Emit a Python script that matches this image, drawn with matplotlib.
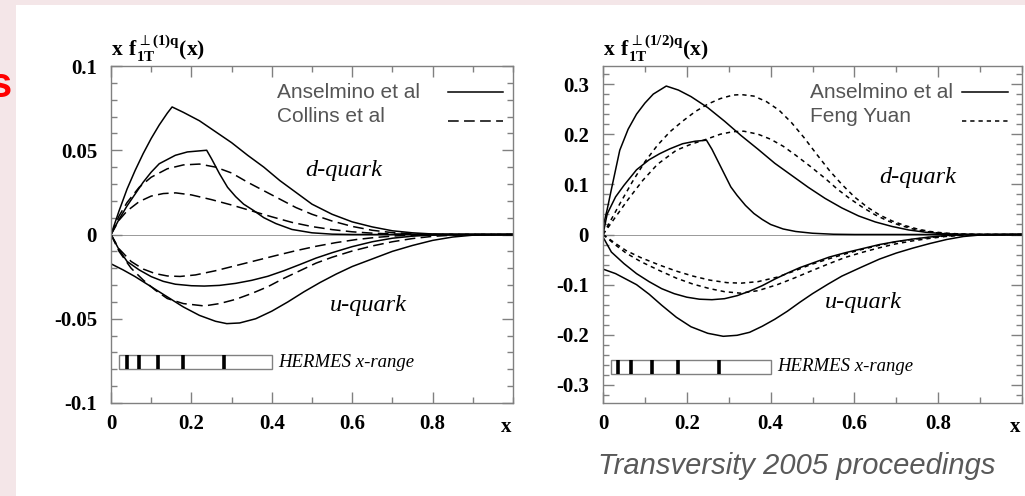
import numpy as np
import matplotlib.pyplot as plt
from matplotlib.patches import Rectangle
from matplotlib.ticker import MultipleLocator

plt.rcParams['mathtext.fontset'] = 'custom'
plt.rcParams['mathtext.bf'] = 'Liberation Serif:bold'
plt.rcParams['mathtext.rm'] = 'Liberation Serif'
plt.rcParams['mathtext.fallback'] = 'stix'

# --- left panel: x f_1T^(1)q ---
x_ans_d1 = [0, 0.02, 0.04, 0.06, 0.08, 0.10, 0.12, 0.14, 0.152, 0.18, 0.22, 0.26, 0.30, 0.34, 0.38,
            0.42, 0.46, 0.50, 0.55, 0.60, 0.65, 0.70, 0.75, 0.80, 0.90, 1.0]
y_ans_d1 = [0, 0.014, 0.027, 0.038, 0.048, 0.057, 0.065, 0.072, 0.0757, 0.0725, 0.0675, 0.061, 0.0545,
            0.047, 0.040, 0.032, 0.025, 0.018, 0.012, 0.0075, 0.0045, 0.0022, 0.001, 0.0003, 0, 0]
x_ans_d2 = [0, 0.02, 0.04, 0.06, 0.08, 0.10, 0.12, 0.14, 0.16, 0.19, 0.238, 0.25, 0.27, 0.29, 0.31,
            0.33, 0.355, 0.38, 0.41, 0.45, 0.50, 0.55, 0.60, 1.0]
y_ans_d2 = [0, 0.009, 0.017, 0.024, 0.031, 0.037, 0.042, 0.0445, 0.047, 0.049, 0.050, 0.045, 0.036,
            0.028, 0.0225, 0.018, 0.0142, 0.010, 0.0065, 0.003, 0.001, 0.0002, 0, 0]
x_col_d1 = [0, 0.02, 0.04, 0.07, 0.10, 0.14, 0.18, 0.22, 0.26, 0.30, 0.34, 0.38, 0.42, 0.46, 0.50,
            0.55, 0.60, 0.65, 0.70, 0.75, 0.80, 1.0]
y_col_d1 = [0, 0.011, 0.019, 0.028, 0.034, 0.039, 0.0413, 0.0418, 0.040, 0.0365, 0.031, 0.026, 0.021,
            0.016, 0.012, 0.008, 0.0048, 0.0025, 0.0011, 0.0004, 0.0001, 0]
x_col_d2 = [0, 0.02, 0.04, 0.07, 0.10, 0.13, 0.161, 0.20, 0.25, 0.30, 0.35, 0.40, 0.45, 0.50, 0.55,
            0.60, 0.65, 0.70, 0.80, 1.0]
y_col_d2 = [0, 0.0085, 0.014, 0.0195, 0.0228, 0.0243, 0.0247, 0.0235, 0.0207, 0.0175, 0.014, 0.0105,
            0.0072, 0.0047, 0.0029, 0.0016, 0.0008, 0.0003, 0, 0]

x_col_u1 = [0, 0.02, 0.05, 0.08, 0.11, 0.14, 0.172, 0.21, 0.26, 0.31, 0.36, 0.41, 0.46, 0.51, 0.56,
            0.61, 0.66, 0.71, 0.78, 0.85, 1.0]
y_col_u1 = [0, -0.0085, -0.016, -0.0205, -0.0232, -0.0246, -0.0249, -0.024, -0.0215, -0.0185, -0.0155,
            -0.0125, -0.0096, -0.007, -0.0048, -0.003, -0.0017, -0.0008, -0.0002, 0, 0]
x_ans_u1 = [0, 0.02, 0.04, 0.07, 0.10, 0.13, 0.16, 0.20, 0.232, 0.27, 0.31, 0.35, 0.39, 0.43, 0.47,
            0.51, 0.55, 0.60, 0.65, 0.70, 0.75, 0.80, 0.90, 1.0]
y_ans_u1 = [0, -0.009, -0.016, -0.021, -0.025, -0.0278, -0.0295, -0.0304, -0.0306, -0.0302, -0.029,
            -0.0272, -0.0248, -0.0215, -0.0178, -0.014, -0.0108, -0.0072, -0.0043, -0.0022, -0.001,
            -0.0003, 0, 0]
x_col_u2 = [0, 0.02, 0.05, 0.08, 0.11, 0.14, 0.18, 0.232, 0.27, 0.31, 0.35, 0.39, 0.43, 0.47, 0.51,
            0.55, 0.60, 0.65, 0.70, 0.75, 0.80, 0.85, 0.90, 1.0]
y_col_u2 = [0, -0.010, -0.020, -0.027, -0.033, -0.038, -0.041, -0.0424, -0.041, -0.0385, -0.035,
            -0.031, -0.026, -0.0215, -0.017, -0.0135, -0.0098, -0.0068, -0.0043, -0.0024, -0.0011,
            -0.0004, -0.0001, 0]
x_ans_u2 = [0, 0.03, 0.06, 0.10, 0.14, 0.18, 0.22, 0.26, 0.288, 0.32, 0.36, 0.40, 0.44, 0.48, 0.52,
            0.56, 0.60, 0.65, 0.70, 0.75, 0.80, 0.85, 0.90, 1.0]
y_ans_u2 = [-0.0174, -0.021, -0.025, -0.031, -0.037, -0.043, -0.048, -0.0515, -0.0529, -0.0525, -0.050,
            -0.0455, -0.040, -0.034, -0.0285, -0.0235, -0.019, -0.0145, -0.010, -0.0065, -0.0035,
            -0.0015, -0.0004, 0]

# --- right panel: x f_1T^(1/2)q ---
x_ans_r_d1 = [0, 0.01, 0.02, 0.04, 0.06, 0.08, 0.10, 0.12, 0.151, 0.18, 0.21, 0.25, 0.29, 0.33, 0.37,
              0.41, 0.45, 0.49, 0.53, 0.57, 0.61, 0.65, 0.69, 0.73, 0.77, 0.81, 0.85, 0.90, 1.0]
y_ans_r_d1 = [0.015, 0.05, 0.09, 0.168, 0.21, 0.24, 0.262, 0.28, 0.296, 0.288, 0.275, 0.253, 0.226,
              0.197, 0.170, 0.142, 0.118, 0.094, 0.072, 0.053, 0.037, 0.025, 0.016, 0.009, 0.0045,
              0.0018, 0.0005, 0, 0]
x_ans_r_d2 = [0, 0.01, 0.03, 0.05, 0.08, 0.11, 0.135, 0.16, 0.19, 0.22, 0.247, 0.26, 0.275, 0.29, 0.305,
              0.32, 0.34, 0.36, 0.38, 0.40, 0.43, 0.46, 0.50, 0.55, 0.60, 1.0]
y_ans_r_d2 = [0, 0.041, 0.075, 0.098, 0.129, 0.149, 0.161, 0.171, 0.181, 0.186, 0.188, 0.17, 0.145,
              0.12, 0.095, 0.078, 0.058, 0.042, 0.03, 0.02, 0.011, 0.006, 0.0025, 0.0005, 0, 0]
x_fy_d1 = [0, 0.04, 0.07, 0.10, 0.13, 0.16, 0.19, 0.22, 0.25, 0.28, 0.31, 0.33, 0.36, 0.39, 0.42, 0.45,
           0.48, 0.51, 0.54, 0.57, 0.60, 0.63, 0.66, 0.69, 0.72, 0.75, 0.78, 0.82, 0.86, 0.90, 1.0]
y_fy_d1 = [0, 0.061, 0.105, 0.145, 0.178, 0.205, 0.226, 0.245, 0.26, 0.271, 0.278, 0.279, 0.276, 0.265,
           0.248, 0.223, 0.193, 0.16, 0.128, 0.10, 0.075, 0.055, 0.039, 0.027, 0.018, 0.011, 0.006,
           0.0025, 0.0008, 0, 0]
x_fy_d2 = [0, 0.03, 0.06, 0.095, 0.13, 0.175, 0.21, 0.247, 0.28, 0.31, 0.336, 0.37, 0.40, 0.43, 0.46,
           0.496, 0.53, 0.56, 0.59, 0.62, 0.65, 0.68, 0.71, 0.74, 0.77, 0.80, 0.84, 0.90, 1.0]
y_fy_d2 = [0, 0.035, 0.07, 0.108, 0.14, 0.168, 0.18, 0.19, 0.2, 0.205, 0.206, 0.2, 0.19, 0.176, 0.158,
           0.135, 0.112, 0.09, 0.071, 0.054, 0.039, 0.027, 0.018, 0.011, 0.006, 0.003, 0.001, 0, 0]

x_ans_r_u1 = [0, 0.02, 0.05, 0.08, 0.11, 0.14, 0.17, 0.20, 0.23, 0.26, 0.29, 0.32, 0.35, 0.38, 0.41,
              0.44, 0.47, 0.50, 0.54, 0.58, 0.62, 0.66, 0.70, 0.74, 0.78, 0.82, 0.87, 1.0]
y_ans_r_u1 = [-0.005, -0.035, -0.058, -0.078, -0.094, -0.108, -0.118, -0.125, -0.129, -0.130, -0.128,
              -0.122, -0.113, -0.102, -0.089, -0.077, -0.066, -0.057, -0.045, -0.036, -0.028, -0.020,
              -0.014, -0.009, -0.005, -0.002, -0.0005, 0]
x_ans_r_u2 = [0, 0.03, 0.055, 0.08, 0.11, 0.14, 0.175, 0.21, 0.25, 0.287, 0.32, 0.35, 0.38, 0.41, 0.44,
              0.47, 0.50, 0.537, 0.57, 0.617, 0.66, 0.70, 0.74, 0.78, 0.82, 0.86, 0.90, 1.0]
y_ans_r_u2 = [-0.069, -0.078, -0.089, -0.100, -0.119, -0.141, -0.165, -0.184, -0.197, -0.203, -0.201,
              -0.195, -0.183, -0.169, -0.153, -0.135, -0.118, -0.099, -0.083, -0.065, -0.049, -0.037,
              -0.027, -0.018, -0.010, -0.004, -0.001, 0]
x_fy_u1 = [0, 0.03, 0.055, 0.09, 0.135, 0.175, 0.215, 0.255, 0.296, 0.33, 0.37, 0.416, 0.456, 0.496,
           0.537, 0.577, 0.617, 0.657, 0.697, 0.737, 0.777, 0.817, 0.86, 1.0]
y_fy_u1 = [0, -0.018, -0.032, -0.046, -0.061, -0.073, -0.083, -0.091, -0.096, -0.097, -0.094, -0.085,
           -0.073, -0.060, -0.049, -0.039, -0.030, -0.022, -0.015, -0.010, -0.006, -0.003, -0.001, 0]
x_fy_u2 = [0, 0.03, 0.055, 0.09, 0.135, 0.175, 0.215, 0.255, 0.29, 0.328, 0.37, 0.416, 0.456, 0.496,
           0.537, 0.577, 0.617, 0.657, 0.697, 0.737, 0.777, 0.817, 0.86, 0.90, 1.0]
y_fy_u2 = [0, -0.021, -0.037, -0.054, -0.072, -0.087, -0.099, -0.108, -0.114, -0.117, -0.112, -0.100,
           -0.087, -0.073, -0.059, -0.046, -0.036, -0.027, -0.019, -0.013, -0.008, -0.004, -0.0015, 0, 0]

# HERMES x-range bins
hermes_left = [0.039, 0.07, 0.116, 0.18, 0.28]
hermes_right = [0.036, 0.067, 0.117, 0.178, 0.277]

# tick labels
xtick_vals = [0, 0.2, 0.4, 0.6, 0.8]
xtick_labels = ['0', '0.2', '0.4', '0.6', '0.8']
ytick_left = [-0.1, -0.05, 0, 0.05, 0.1]
ytick_left_labels = ['-0.1', '-0.05', '0', '0.05', '0.1']
ytick_right = [-0.3, -0.2, -0.1, 0, 0.1, 0.2, 0.3]
ytick_right_labels = ['-0.3', '-0.2', '-0.1', '0', '0.1', '0.2', '0.3']

serif = 'Liberation Serif'
sans = 'Liberation Sans'
grey_ax = '#808080'

fig = plt.figure(figsize=(10.25, 4.96), dpi=100, facecolor='#f4e6e8')
fig.patches.append(Rectangle((16 / 1025, 0), 1, (496 - 5) / 496, transform=fig.transFigure,
                             facecolor='white', edgecolor='none', zorder=-10))
fig.text(12 / 1025, 1 - 86 / 496, 's', color='red', fontsize=30, fontweight='bold',
         family=sans, ha='right', va='center')

ax1 = fig.add_axes([111 / 1025, 93 / 496, 402 / 1025, 337 / 496])
ax2 = fig.add_axes([603 / 1025, 93 / 496, 419 / 1025, 337 / 496])

solid = dict(color='black', lw=1.1)
long_dash = dict(color='black', lw=1.1, dashes=(7, 3.5))
short_dash = dict(color='black', lw=1.1, dashes=(2.8, 2.6))

ax1.plot(x_ans_d1, y_ans_d1, **solid)
ax1.plot(x_ans_d2, y_ans_d2, **solid)
ax1.plot(x_ans_u1, y_ans_u1, **solid)
ax1.plot(x_ans_u2, y_ans_u2, **solid)
ax1.plot(x_col_d1, y_col_d1, **long_dash)
ax1.plot(x_col_d2, y_col_d2, **long_dash)
ax1.plot(x_col_u1, y_col_u1, **long_dash)
ax1.plot(x_col_u2, y_col_u2, **long_dash)

ax2.plot(x_ans_r_d1, y_ans_r_d1, **solid)
ax2.plot(x_ans_r_d2, y_ans_r_d2, **solid)
ax2.plot(x_ans_r_u1, y_ans_r_u1, **solid)
ax2.plot(x_ans_r_u2, y_ans_r_u2, **solid)
ax2.plot(x_fy_d1, y_fy_d1, **short_dash)
ax2.plot(x_fy_d2, y_fy_d2, **short_dash)
ax2.plot(x_fy_u1, y_fy_u1, **short_dash)
ax2.plot(x_fy_u2, y_fy_u2, **short_dash)

panels = [
    dict(ax=ax1, ylim=(-0.1, 0.1), yt=ytick_left, ytl=ytick_left_labels, ymin=0.01,
         box=(-0.08, -0.0715), bins=hermes_left,
         ylab=r'$\mathbf{x\ f}_{\mathbf{1T}}^{\perp\mathbf{(1)q}}\mathbf{(x)}$',
         dpos=(0.58, 0.038), upos=(0.64, -0.042),
         leg=[('Anselmino et al', solid, 0.921), ('Collins et al', long_dash, 0.850)],
         legx=0.413, legline=(0.838, 0.975)),
    dict(ax=ax2, ylim=(-0.336, 0.336), yt=ytick_right, ytl=ytick_right_labels, ymin=0.02,
         box=(-0.278, -0.25), bins=hermes_right,
         ylab=r'$\mathbf{x\ f}_{\mathbf{1T}}^{\perp\mathbf{(1/2)q}}\mathbf{(x)}$',
         dpos=(0.75, 0.114), upos=(0.62, -0.136),
         leg=[('Anselmino et al', solid, 0.921), ('Feng Yuan', short_dash, 0.850)],
         legx=0.494, legline=(0.857, 0.967)),
]
for p in panels:
    ax = p['ax']
    ax.set_xlim(0, 1)
    ax.set_ylim(*p['ylim'])
    ax.axhline(0, color='#999999', lw=0.7, zorder=1)
    ax.set_xticks(xtick_vals)
    ax.set_xticklabels(xtick_labels)
    ax.xaxis.set_minor_locator(MultipleLocator(0.1))
    ax.set_yticks(p['yt'])
    ax.set_yticklabels(p['ytl'])
    ax.yaxis.set_minor_locator(MultipleLocator(p['ymin']))
    ax.tick_params(which='both', direction='in', top=True, right=True, color=grey_ax, width=1)
    ax.tick_params(which='major', length=8)
    ax.tick_params(which='minor', length=4.3)
    ax.tick_params(axis='y', which='major', pad=10)
    ax.tick_params(axis='x', which='major', pad=8)
    for lab in ax.get_xticklabels() + ax.get_yticklabels():
        lab.set_fontfamily(serif)
        lab.set_fontweight('bold')
        lab.set_fontsize(15)
    for sp in ax.spines.values():
        sp.set_color(grey_ax)
        sp.set_linewidth(1)
    ax.text(0.983, -0.072, 'x', transform=ax.transAxes, family=serif, fontweight='bold',
            fontsize=15, ha='center', va='center')
    ax.text(0, 1.005, p['ylab'], transform=ax.transAxes, fontsize=15.5, ha='left', va='bottom')
    b0, b1 = p['box']
    ax.add_patch(Rectangle((0.02, b0), 0.38, b1 - b0, facecolor='white', edgecolor=grey_ax, lw=1, zorder=3))
    ax.vlines(p['bins'], b0, b1, color='black', lw=2.6, zorder=4)
    ax.text(0.415, (b0 + b1) / 2, 'HERMES x-range', family=serif, style='italic', fontsize=13.5,
            ha='left', va='center')
    ax.text(*p['dpos'], 'd-quark', family=serif, style='italic', fontsize=17.5, ha='center', va='center')
    ax.text(*p['upos'], 'u-quark', family=serif, style='italic', fontsize=17.5, ha='center', va='center')
    # hand-made legend: label left, line sample right
    for i, (name, style, ly) in enumerate(p['leg']):
        ax.text(p['legx'], ly, name, transform=ax.transAxes, family=sans, fontsize=15,
                color='#555555', ha='left', va='center')
        line_y = ly + 0.002 if i == 0 else ly - 0.012
        ax.plot(p['legline'], [line_y, line_y], transform=ax.transAxes, clip_on=False, **style)

fig.text(995 / 1025, 1 - 466 / 496, 'Transversity 2005 proceedings', family=sans, style='italic',
         fontsize=21, color='#595959', ha='right', va='center')

fig.savefig('out.png', dpi=100, facecolor=fig.get_facecolor())
